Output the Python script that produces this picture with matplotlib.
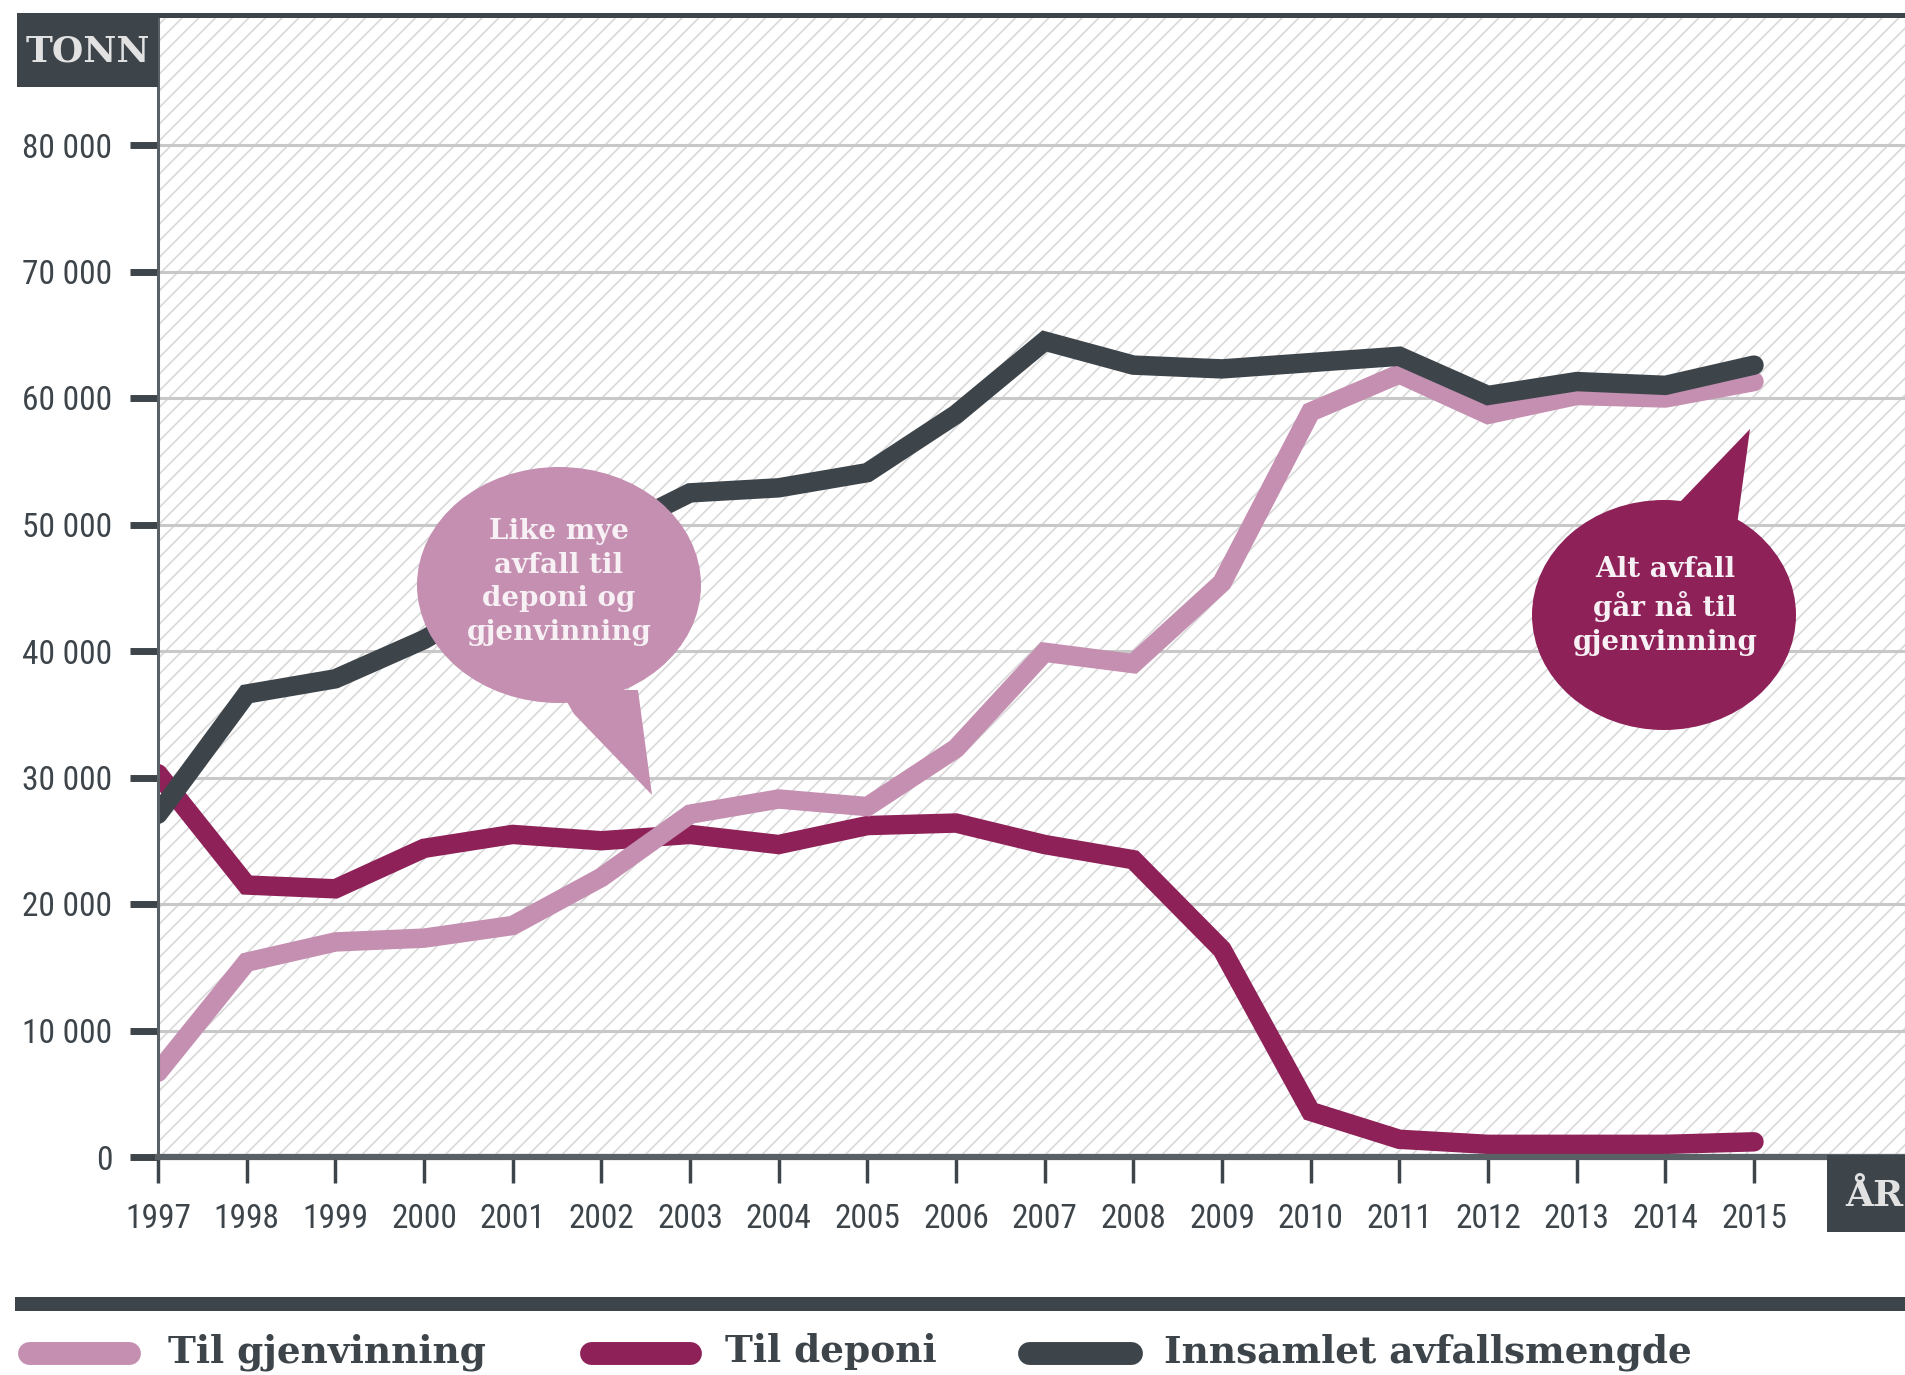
import matplotlib
matplotlib.use("Agg")
import matplotlib.pyplot as plt
from matplotlib import font_manager as fm
from matplotlib.patches import Rectangle, Ellipse, Polygon
from matplotlib.lines import Line2D

# ---------------- data ----------------
years = [1997, 1998, 1999, 2000, 2001, 2002, 2003, 2004, 2005, 2006,
         2007, 2008, 2009, 2010, 2011, 2012, 2013, 2014, 2015]
gjenvinning = [6700, 15400, 17000, 17300, 18300, 22100, 27100, 28300, 27700, 32300,
               39900, 39000, 45400, 58900, 61900, 58700, 60200, 60000, 61300]
deponi = [30300, 21500, 21200, 24400, 25500, 25000, 25500, 24700, 26200, 26400,
          24700, 23500, 16400, 3600, 1400, 1000, 1000, 1000, 1200]
innsamlet = [27100, 36600, 37800, 40900, 45000, 49000, 52500, 52900, 54100, 58700,
             64500, 62600, 62300, 62800, 63300, 60200, 61300, 61000, 62600]
y_ticks = [0, 10000, 20000, 30000, 40000, 50000, 60000, 70000, 80000]
y_ticklabels = ["0", "10 000", "20 000", "30 000", "40 000", "50 000",
                "60 000", "70 000", "80 000"]
series_labels = ["Til gjenvinning", "Til deponi", "Innsamlet avfallsmengde"]
y_label = "TONN"
x_label = "ÅR"
bubble1_text = "Like mye\navfall til\ndeponi og\ngjenvinning"
bubble2_text = "Alt avfall\ngår nå til\ngjenvinning"

# ---------------- style ----------------
W, H = 1906, 1375
C_LIGHT = "#c48fb0"
C_MAG = "#8e2158"
C_DARK = "#3d454b"
C_SPINE = "#5a6166"
C_GRID = "#c8c8c8"

names = {f.name for f in fm.fontManager.ttflist}
cond_family = next((n for n in ["Liberation Sans Narrow", "Roboto Condensed"] if n in names), "DejaVu Sans")
SERIF = "DejaVu Serif"

def fx(px):
    return px / W

def fy(py):
    return 1 - py / H

fig = plt.figure(figsize=(W / 100, H / 100), dpi=100)
fig.patch.set_facecolor("white")

ax_left, ax_top, ax_bottom, ax_right = 158, 17, 1157, 1906
ax = fig.add_axes([fx(ax_left), fy(ax_bottom), (ax_right - ax_left) / W, (ax_bottom - ax_top) / H])

x_right = 2015 + (ax_right - 1754) / ((1754 - 158) / 18)
ax.set_xlim(1997, x_right)
y_top = (ax_bottom - ax_top) / ((1157 - 145) / 80000)
ax.set_ylim(0, y_top)

# hatched background
plt.rcParams["hatch.linewidth"] = 1.2
bg = Rectangle((0, 0), 1, 1, transform=ax.transAxes, facecolor="white",
               edgecolor="#d9d9d9", hatch="//", linewidth=0, zorder=0)
ax.add_patch(bg)

for yv in y_ticks[1:]:
    ax.axhline(yv, color=C_GRID, lw=2.2, zorder=1)

lw = 14
ax.plot(years, deponi, color=C_MAG, lw=lw, solid_capstyle="round", solid_joinstyle="miter", zorder=3)
ax.plot(years, gjenvinning, color=C_LIGHT, lw=lw, solid_capstyle="round", solid_joinstyle="miter", zorder=4)
ax.plot(years, innsamlet, color=C_DARK, lw=lw, solid_capstyle="round", solid_joinstyle="miter", zorder=5)

# spines
for s in ["top", "right"]:
    ax.spines[s].set_visible(False)
ax.spines["left"].set_color(C_SPINE)
ax.spines["left"].set_linewidth(2.2)
ax.spines["bottom"].set_color(C_SPINE)
ax.spines["bottom"].set_linewidth(4.5)
ax.spines["left"].set_zorder(6)
ax.spines["bottom"].set_zorder(6)

ax.set_yticks(y_ticks)
ax.set_yticklabels(y_ticklabels)
ax.set_xticks(years)
ax.set_xticklabels([str(y) for y in years])
ax.tick_params(axis="y", direction="out", length=20, width=5, color=C_DARK, pad=13,
               labelsize=24, labelcolor=C_DARK)
ax.tick_params(axis="x", direction="out", length=19, width=2.5, color=C_DARK, pad=14,
               labelsize=24, labelcolor=C_DARK)
for lab in ax.get_xticklabels() + ax.get_yticklabels():
    lab.set_family(cond_family)
    if cond_family == "DejaVu Sans":
        lab.set_fontstretch("condensed")

# top border
fig.add_artist(Rectangle((fx(17), fy(18)), 1 - fx(17), 5 / H, transform=fig.transFigure,
                         facecolor=C_DARK, edgecolor="none", zorder=2))
# TONN box
fig.add_artist(Rectangle((fx(17), fy(87)), (158 - 17) / W, (87 - 13) / H, transform=fig.transFigure,
                         facecolor=C_DARK, edgecolor="none", zorder=2))
fig.text(fx(88), fy(51), y_label, ha="center", va="center", family=SERIF, weight="bold",
         fontsize=26, color="#e2e2e2", zorder=3)
# ÅR box
fig.add_artist(Rectangle((fx(1827), fy(1232)), 1 - fx(1827), (1232 - 1155) / H, transform=fig.transFigure,
                         facecolor=C_DARK, edgecolor="none", zorder=2))
fig.text(fx(1845), fy(1196), x_label, ha="left", va="center", family=SERIF, weight="bold",
         fontsize=26, color="#e2e2e2", zorder=3)

# bubbles
def bubble(cx, cy, w, h, tail, color):
    fig.add_artist(Ellipse((fx(cx), fy(cy)), w / W, h / H, transform=fig.transFigure,
                           facecolor=color, edgecolor="none", zorder=7))
    fig.add_artist(Polygon([(fx(px), fy(py)) for px, py in tail], closed=True,
                           transform=fig.transFigure, facecolor=color, edgecolor="none", zorder=7))

bubble(559, 585, 284, 236, [(560, 690), (574, 714), (652, 795), (638, 690)], C_LIGHT)
fig.text(fx(559), fy(582), bubble1_text, ha="center", va="center", family=SERIF, weight="bold",
         fontsize=20, color="#f7f0f4", linespacing=1.33, zorder=8)

bubble(1664, 615, 264, 230, [(1660, 512), (1680, 502), (1750, 429), (1737, 525), (1700, 540)], C_MAG)
fig.text(fx(1665), fy(606), bubble2_text, ha="center", va="center", family=SERIF, weight="bold",
         fontsize=20, color="#f7f0f4", linespacing=1.33, zorder=8)

# legend separator bar
fig.add_artist(Rectangle((fx(15), fy(1311)), 1 - fx(15), 14 / H, transform=fig.transFigure,
                         facecolor=C_DARK, edgecolor="none", zorder=2))

# legend
sw_lw = 16.5
half = 11.5
legend_items = [(18, 140, 168, C_LIGHT), (580, 702, 725, C_MAG), (1018, 1142, 1164, C_DARK)]
for (x0, x1, tx, col), lab in zip(legend_items, series_labels):
    fig.add_artist(Line2D([fx(x0 + half), fx(x1 - half)], [fy(1353), fy(1353)], transform=fig.transFigure,
                          color=col, lw=sw_lw, solid_capstyle="round", zorder=3))
    fig.text(fx(tx), fy(1352), lab, ha="left", va="center", family=SERIF, weight="bold",
             fontsize=27, color=C_DARK, zorder=3)

fig.savefig("out.png", dpi=100, facecolor="white")
